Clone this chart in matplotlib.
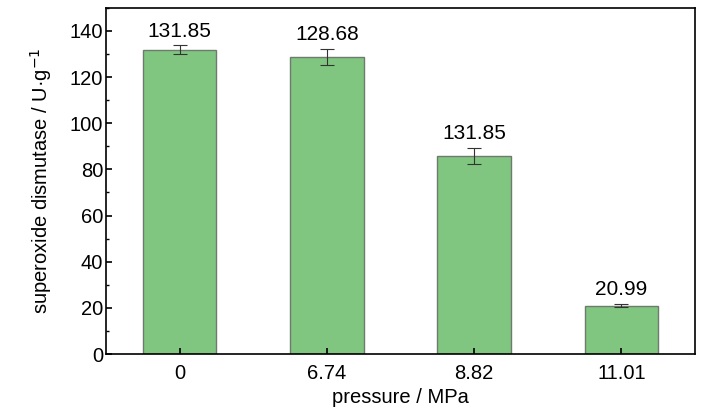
import numpy as np
import matplotlib.pyplot as plt
from matplotlib.ticker import MultipleLocator

pressures = ["0", "6.74", "8.82", "11.01"]
sod = [131.85, 128.68, 85.9, 20.99]
sod_err = [2.0, 3.6, 3.6, 0.7]
bar_labels = ["131.85", "128.68", "131.85", "20.99"]

plt.rcParams['font.family'] = ["Liberation Sans", "DejaVu Sans"]

fig = plt.figure(figsize=(7.28, 4.16), dpi=100)
ax = fig.add_axes([0.1456, 0.149, 0.809, 0.832])

x = np.arange(len(pressures))
ax.bar(x, sod, width=0.5, color="#80c680", edgecolor="#6e7a6e", linewidth=1.0)
ax.errorbar(x, sod, yerr=sod_err, fmt="none", ecolor="#333333", elinewidth=0.8,
            capsize=5, capthick=0.8)

for xi, v, e, lab in zip(x, sod, sod_err, bar_labels):
    ax.text(xi, v + e + 2.0, lab, ha="center", va="bottom", fontsize=15)

ax.set_xlim(-0.5, 3.5)
ax.set_ylim(0, 150)
ax.set_xticks(x)
ax.set_xticklabels(pressures)
ax.set_yticks(np.arange(0, 141, 20))
ax.yaxis.set_minor_locator(MultipleLocator(10))
ax.tick_params(axis="both", which="major", direction="in", labelsize=14.5, length=4,
               width=1.2, top=False, right=False)
ax.tick_params(axis="x", which="major", pad=7)
ax.tick_params(axis="y", which="major", pad=2)
ax.tick_params(axis="y", which="minor", direction="in", length=2.5, width=1.0, right=False)
for s in ax.spines.values():
    s.set_linewidth(1.2)

ax.set_xlabel("pressure / MPa", fontsize=14.5, labelpad=4)
ax.set_ylabel("superoxide dismutase / U·g$^{-1}$", fontsize=14.5, labelpad=11)

fig.savefig("out.png", dpi=100)
